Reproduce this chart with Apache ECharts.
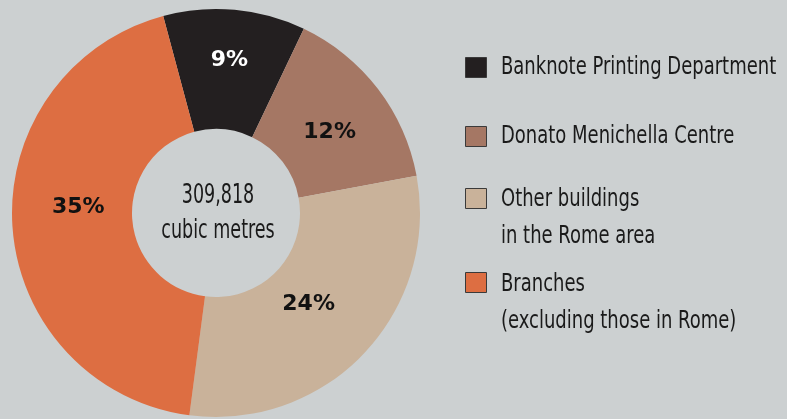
<!DOCTYPE html>
<html>
<head>
<meta charset="utf-8">
<script src="https://cdn.jsdelivr.net/npm/echarts@6/dist/echarts.min.js"></script>
<style>
  html, body { margin: 0; padding: 0; background: #ccd0d1; }
  #chart { width: 787px; height: 419px; }
</style>
</head>
<body>
<div id="chart"></div>
<script>
  // share of volume by site, in percent
  var names = ['Banknote Printing Department', 'Donato Menichella Centre',
    'Other buildings in the Rome area', 'Branches (excluding those in Rome)'];
  var legendLines = [['Banknote Printing Department'], ['Donato Menichella Centre'],
    ['Other buildings', 'in the Rome area'], ['Branches', '(excluding those in Rome)']];
  var values = [9, 12, 24, 35];
  var colors = ['#231f20', '#a57764', '#c9b29a', '#dd6e42'];
  var labelColors = ['#ffffff', '#111111', '#111111', '#111111'];
  var totalText = ['309,818', 'cubic metres'];

  var narrow = '"DejaVu Sans Condensed", "DejaVu Sans", sans-serif';
  // no condensed face like the original, so squash the text a bit
  var legendSqueeze = 0.80;
  var centerSqueeze = 0.75;
  var labelOffsets = [[0, -6], [-3, 9], [-14, -10], [9, -15]];
  var iconTops = [57, 126, 188, 272];
  var textMids = [67, 136, 199, 284];

  var data = [];
  for (var i = 0; i < values.length; i++) {
    data.push({
      name: names[i],
      value: values[i],
      itemStyle: {color: colors[i]},
      label: {color: labelColors[i], offset: labelOffsets[i]}
    });
  }

  var legends = [];
  var graphics = [{
    type: 'text',
    x: 218,
    y: 214,
    scaleX: centerSqueeze,
    style: {
      text: totalText.join('\n'),
      align: 'center',
      verticalAlign: 'middle',
      font: '26px ' + narrow,
      lineHeight: 35,
      fill: '#1a1a1a'
    }
  }];
  for (var j = 0; j < names.length; j++) {
    legends.push({
      data: [names[j]],
      icon: 'rect',
      left: 465,
      top: iconTops[j],
      padding: 0,
      itemWidth: 21,
      itemHeight: 20,
      selectedMode: false,
      itemStyle: {borderColor: '#3a3a3a', borderWidth: 1},
      formatter: function () { return ''; },
      textStyle: {fontSize: 8, lineHeight: 8}
    });
    graphics.push({
      type: 'text',
      x: 501,
      y: textMids[j] - 18.5,
      scaleX: legendSqueeze,
      style: {
        text: legendLines[j].join('\n'),
        align: 'left',
        verticalAlign: 'top',
        font: '25px ' + narrow,
        lineHeight: 37,
        fill: '#1a1a1a'
      }
    });
  }

  var myChart = echarts.init(document.getElementById('chart'));
  var option = {
    backgroundColor: '#ccd0d1',
    animation: false,
    legend: legends,
    graphic: graphics,
    series: [{
      type: 'pie',
      center: [216, 213],
      radius: [84, 204],
      startAngle: 105,
      clockwise: true,
      avoidLabelOverlap: false,
      label: {
        show: true,
        position: 'inside',
        formatter: '{c}%',
        fontFamily: '"DejaVu Sans", sans-serif',
        fontWeight: 'bold',
        fontSize: 22
      },
      labelLine: {show: false},
      emphasis: {disabled: true},
      data: data
    }]
  };
  myChart.setOption(option);
</script>
</body>
</html>
